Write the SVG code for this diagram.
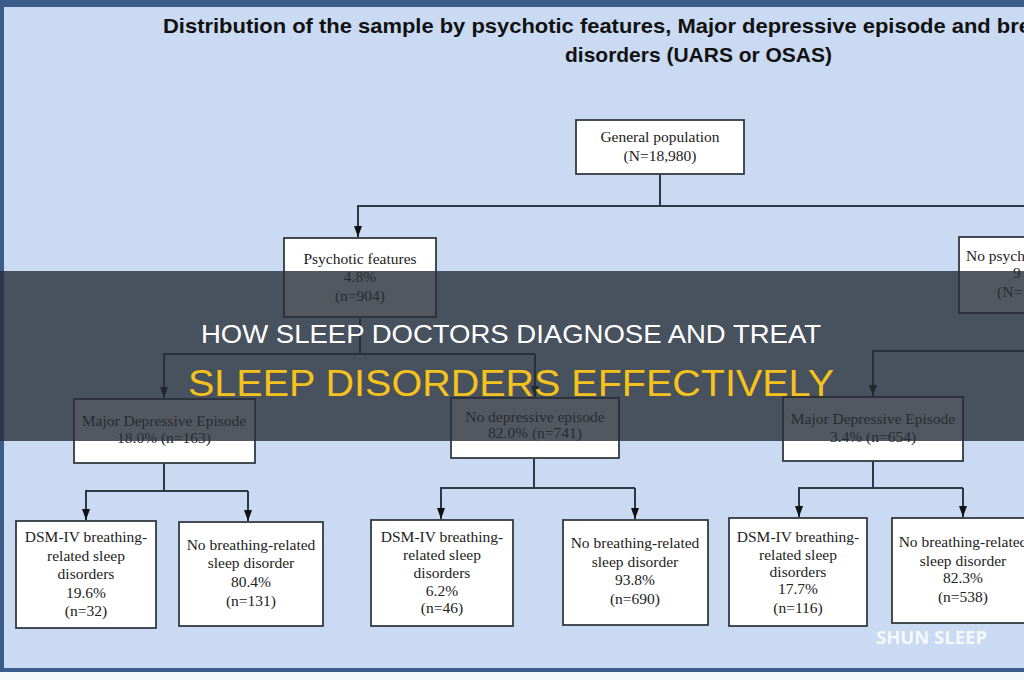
<svg xmlns="http://www.w3.org/2000/svg" width="1024" height="680" viewBox="0 0 1024 680">
  <defs>
    <marker id="arr" viewBox="0 0 11 8" refX="11" refY="4" markerWidth="11" markerHeight="8" markerUnits="userSpaceOnUse" orient="auto">
      <path d="M0,0 L11,4 L0,8 z" fill="#111"/>
    </marker>
    <style>
      .box { fill: #ffffff; stroke: #333a40; stroke-width: 1.8; }
      .t { font-family: "Liberation Serif", "Times New Roman", serif; font-size: 15.5px; fill: #222; text-anchor: middle; }
      .tl { font-family: "Liberation Serif", "Times New Roman", serif; font-size: 15.5px; fill: #222; }
      .ln { fill: none; stroke: #2c3a48; stroke-width: 2; }
      .title { font-family: "Liberation Sans", Arial, sans-serif; font-weight: bold; font-size: 21px; fill: #111; }
    </style>
  </defs>

  <!-- background and frame -->
  <rect x="0" y="0" width="1024" height="680" fill="#f4f6f8"/>
  <rect x="0" y="0" width="1024" height="672" fill="#c9daf2"/>
  <rect x="0" y="0" width="1024" height="7" fill="#3b5c8a"/>
  <rect x="0" y="0" width="4" height="672" fill="#3b5c8a"/>
  <rect x="0" y="668" width="1024" height="4" fill="#3b5c8a"/>

  <!-- title -->
  <g id="title">
    <text class="title" x="163" y="33" textLength="868" lengthAdjust="spacingAndGlyphs">Distribution of the sample by psychotic features, Major depressive episode and bre</text>
    <text class="title" x="565" y="62" textLength="267" lengthAdjust="spacingAndGlyphs">disorders (UARS or OSAS)</text>
  </g>

  <!-- connectors -->
  <g id="connectors">
    <path class="ln" d="M660,174 V206"/>
    <path class="ln" d="M1030,206 H358 V237" marker-end="url(#arr)"/>
    <path class="ln" d="M360,317 V354"/>
    <path class="ln" d="M535,354 H164 V398" marker-end="url(#arr)"/>
    <path class="ln" d="M535,354 V397" marker-end="url(#arr)"/>
    <path class="ln" d="M1030,351 H873 V396" marker-end="url(#arr)"/>
    <path class="ln" d="M164,463 V491"/>
    <path class="ln" d="M248,491 H86 V520" marker-end="url(#arr)"/>
    <path class="ln" d="M248,491 V521" marker-end="url(#arr)"/>
    <path class="ln" d="M534,458 V488"/>
    <path class="ln" d="M635,488 H441 V519" marker-end="url(#arr)"/>
    <path class="ln" d="M635,488 V519" marker-end="url(#arr)"/>
    <path class="ln" d="M873,461 V488"/>
    <path class="ln" d="M963,488 H799 V517" marker-end="url(#arr)"/>
    <path class="ln" d="M963,488 V517" marker-end="url(#arr)"/>
  </g>

  <!-- nodes -->
  <g id="general-population">
    <rect class="box" x="576" y="120" width="168" height="54"/>
    <text class="t" x="660" y="142">General population</text>
    <text class="t" x="660" y="161">(N=18,980)</text>
  </g>
  <g id="psychotic-features">
    <rect class="box" x="284" y="238" width="152" height="79"/>
    <text class="t" x="360" y="264">Psychotic features</text>
    <text class="t" x="360" y="282">4.8%</text>
    <text class="t" x="360" y="301">(n=904)</text>
  </g>
  <g id="no-psychotic-features">
    <rect class="box" x="959" y="237" width="150" height="76"/>
    <text class="tl" x="966" y="261">No psych</text>
    <text class="tl" x="1013" y="278">9</text>
    <text class="tl" x="997" y="297">(N=</text>
  </g>
  <g id="mde-left">
    <rect class="box" x="74" y="399" width="181" height="64"/>
    <text class="t" x="164" y="426">Major Depressive Episode</text>
    <text class="t" x="164" y="443">18.0% (n=163)</text>
  </g>
  <g id="no-depressive-episode">
    <rect class="box" x="451" y="398" width="168" height="60"/>
    <text class="t" x="535" y="422">No depressive episode</text>
    <text class="t" x="535" y="438">82.0% (n=741)</text>
  </g>
  <g id="mde-right">
    <rect class="box" x="783" y="397" width="180" height="64"/>
    <text class="t" x="873" y="424">Major Depressive Episode</text>
    <text class="t" x="873" y="442">3.4% (n=654)</text>
  </g>
  <g id="dsm-1">
    <rect class="box" x="16" y="521" width="140" height="107"/>
    <text class="t" x="86" y="542">DSM-IV breathing-</text>
    <text class="t" x="86" y="561">related sleep</text>
    <text class="t" x="86" y="579">disorders</text>
    <text class="t" x="86" y="598">19.6%</text>
    <text class="t" x="86" y="616">(n=32)</text>
  </g>
  <g id="nobrsd-1">
    <rect class="box" x="179" y="522" width="144" height="104"/>
    <text class="t" x="251" y="550">No breathing-related</text>
    <text class="t" x="251" y="568">sleep disorder</text>
    <text class="t" x="251" y="587">80.4%</text>
    <text class="t" x="251" y="606">(n=131)</text>
  </g>
  <g id="dsm-2">
    <rect class="box" x="371" y="520" width="142" height="106"/>
    <text class="t" x="442" y="542">DSM-IV breathing-</text>
    <text class="t" x="442" y="560">related sleep</text>
    <text class="t" x="442" y="578">disorders</text>
    <text class="t" x="442" y="596">6.2%</text>
    <text class="t" x="442" y="613">(n=46)</text>
  </g>
  <g id="nobrsd-2">
    <rect class="box" x="563" y="520" width="145" height="105"/>
    <text class="t" x="635" y="548">No breathing-related</text>
    <text class="t" x="635" y="567">sleep disorder</text>
    <text class="t" x="635" y="585">93.8%</text>
    <text class="t" x="635" y="604">(n=690)</text>
  </g>
  <g id="dsm-3">
    <rect class="box" x="729" y="518" width="138" height="108"/>
    <text class="t" x="798" y="542">DSM-IV breathing-</text>
    <text class="t" x="798" y="560">related sleep</text>
    <text class="t" x="798" y="577">disorders</text>
    <text class="t" x="798" y="594">17.7%</text>
    <text class="t" x="798" y="613">(n=116)</text>
  </g>
  <g id="nobrsd-3">
    <rect class="box" x="892" y="518" width="150" height="105"/>
    <text class="t" x="963" y="547">No breathing-related</text>
    <text class="t" x="963" y="566">sleep disorder</text>
    <text class="t" x="963" y="583">82.3%</text>
    <text class="t" x="963" y="602">(n=538)</text>
  </g>

  <!-- overlay banner -->
  <g id="banner">
    <rect x="0" y="271" width="1024" height="170" fill="rgb(40,46,56)" fill-opacity="0.8"/>
    <text x="511" y="343" text-anchor="middle" font-family="Liberation Sans, Arial, sans-serif" font-size="25" fill="#ffffff" textLength="620" lengthAdjust="spacingAndGlyphs">HOW SLEEP DOCTORS DIAGNOSE AND TREAT</text>
    <text x="511" y="396" text-anchor="middle" font-family="Liberation Sans, Arial, sans-serif" font-size="36" fill="#f6c21c" textLength="646" lengthAdjust="spacingAndGlyphs">SLEEP DISORDERS EFFECTIVELY</text>
  </g>

  <g id="watermark">
    <text x="876" y="644" font-family="Open Sans, Liberation Sans, sans-serif" font-weight="bold" font-size="17" fill="#ffffff" fill-opacity="0.85" textLength="111" lengthAdjust="spacingAndGlyphs">SHUN SLEEP</text>
  </g>
</svg>
